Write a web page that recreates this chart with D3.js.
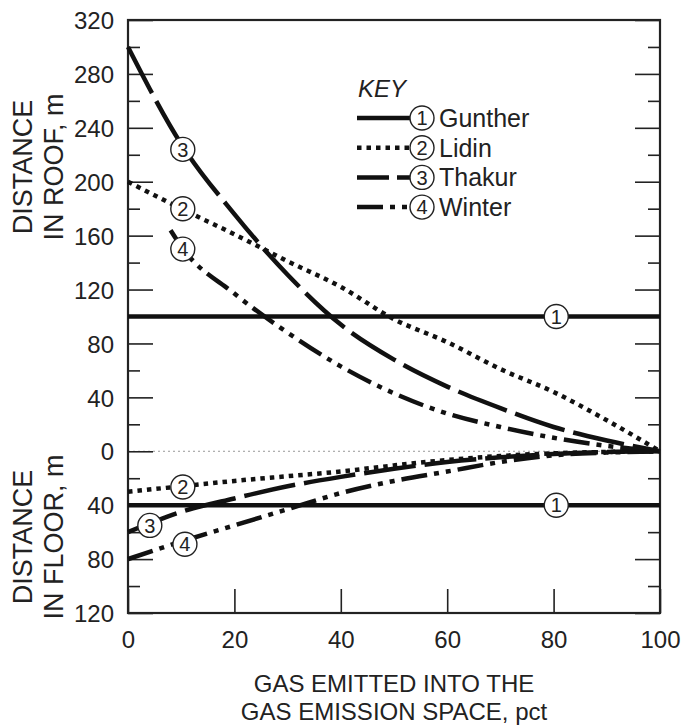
<!DOCTYPE html>
<html>
<head>
<meta charset="utf-8">
<script src="https://cdn.jsdelivr.net/npm/d3@7"></script>
<style>
  body { margin: 0; background: #fff; }
  svg { font-family: "Liberation Sans", Arial, sans-serif; }
</style>
</head>
<body>
<script>
// values (pct of gas emitted -> distance, m)
const pct = [0, 10, 20, 30, 40, 50, 60, 70, 80, 90, 100];
const winterPct = [8, 10, 20, 30, 40, 50, 60, 70, 80, 90, 100];
const edgePct = [0, 100];

const guntherRoof = [100, 100];
const lidinRoof = [200, 180, 161, 141, 122, 98, 81, 61, 44, 23, 0];
const thakurRoof = [300, 228, 176, 131, 94, 68, 48, 32, 18, 8, 0];
const winterRoof = [164, 152, 117, 88, 63, 43, 28, 18, 10, 4, 0];

// floor distances (plotted below zero)
const guntherFloor = [40, 40];
const lidinFloor = [30, 26, 22, 18.5, 15, 10.5, 6.5, 3.5, 1.5, 0.5, 0];
const thakurFloor = [60, 45, 35, 26, 19, 13, 8, 4.5, 2, 0.5, 0];
const winterFloor = [80, 67, 55, 43, 31, 22, 15, 8, 3, 1, 0];

const xTicks = [0, 20, 40, 60, 80, 100];
const yMajor = [-120, -80, -40, 0, 40, 80, 120, 160, 200, 240, 280, 320];
const yMinor = [-100, -60, -20, 20, 60, 100, 140, 180, 220, 260, 300];

const keyNames = ['Gunther', 'Lidin', 'Thakur', 'Winter'];
// circled numbers on the curves: [id, pct, distance]
const markers = [
  [1, 80.5, 100], [2, 10.3, 180], [3, 10.3, 224], [4, 10.3, 150],
  [1, 80.5, -40], [2, 10.3, -26.5], [3, 4.1, -55], [4, 10.7, -69]
];

const W = 686, H = 726;
const plot = { left: 128, right: 660, top: 20, bottom: 613 };

const x = d3.scaleLinear().domain([0, 100]).range([plot.left, plot.right]);
const y = d3.scaleLinear().domain([-120, 320]).range([plot.bottom, plot.top]);

const svg = d3.select('body').append('svg')
  .attr('width', W).attr('height', H);

const dashes = {
  1: null,
  2: '4.5,5',
  3: '52,9',
  4: '26,7,5,7,5,7'
};

// zero line
svg.append('line')
  .attr('x1', plot.left).attr('x2', plot.right)
  .attr('y1', y(0)).attr('y2', y(0))
  .attr('stroke', '#999').attr('stroke-width', 1)
  .attr('stroke-dasharray', '2,3');

// axes
const fontSize = 24;
const styleAxis = g => {
  g.select('.domain').remove();
  g.selectAll('line').attr('stroke', '#222').attr('stroke-width', 1.6);
  g.selectAll('text').attr('font-size', fontSize).attr('fill', '#222')
    .attr('font-family', '"Liberation Sans", Arial, sans-serif');
};

svg.append('g').attr('transform', `translate(${plot.left},0)`)
  .call(d3.axisLeft(y).tickValues(yMajor).tickSize(-25).tickPadding(14)
    .tickFormat(d => Math.abs(d)))
  .call(styleAxis)
  .selectAll('text').attr('dy', '0.36em');

svg.append('g').attr('transform', `translate(${plot.left},0)`)
  .call(d3.axisLeft(y).tickValues(yMinor).tickSize(-12).tickFormat(''))
  .call(styleAxis);

svg.append('g').attr('transform', `translate(${plot.right},0)`)
  .call(d3.axisRight(y).tickValues(yMajor).tickSize(-25).tickFormat(''))
  .call(styleAxis);

svg.append('g').attr('transform', `translate(${plot.right},0)`)
  .call(d3.axisRight(y).tickValues(yMinor).tickSize(-12).tickFormat(''))
  .call(styleAxis);

svg.append('g').attr('transform', `translate(0,${plot.bottom})`)
  .call(d3.axisBottom(x).tickValues(xTicks).tickSize(-24).tickPadding(18))
  .call(styleAxis);

// frame
svg.append('rect')
  .attr('x', plot.left).attr('y', plot.top)
  .attr('width', plot.right - plot.left).attr('height', plot.bottom - plot.top)
  .attr('fill', 'none').attr('stroke', '#222').attr('stroke-width', 2.2);

// curves
const line = d3.line()
  .x(d => x(d[0])).y(d => y(d[1]))
  .curve(d3.curveMonotoneX);

const series = [
  { id: 1, xs: edgePct, vs: guntherRoof, sign: 1 },
  { id: 2, xs: pct, vs: lidinRoof, sign: 1 },
  { id: 3, xs: pct, vs: thakurRoof, sign: 1 },
  { id: 4, xs: winterPct, vs: winterRoof, sign: 1 },
  { id: 1, xs: edgePct, vs: guntherFloor, sign: -1 },
  { id: 2, xs: pct, vs: lidinFloor, sign: -1 },
  { id: 3, xs: pct, vs: thakurFloor, sign: -1 },
  { id: 4, xs: pct, vs: winterFloor, sign: -1 }
];

svg.append('g').selectAll('path')
  .data(series)
  .join('path')
  .attr('d', s => line(s.xs.map((p, i) => [p, s.sign * s.vs[i]])))
  .attr('fill', 'none')
  .attr('stroke', '#111')
  .attr('stroke-width', 4.5)
  .attr('stroke-dasharray', s => dashes[s.id]);

// circled numbers
const badge = (g, cx, cy, id) => {
  g.append('circle').attr('cx', cx).attr('cy', cy).attr('r', 12)
    .attr('fill', '#fff').attr('stroke', '#222').attr('stroke-width', 1.4);
  g.append('text').attr('x', cx).attr('y', cy).attr('dy', '0.36em')
    .attr('text-anchor', 'middle').attr('font-size', 20).attr('fill', '#222')
    .text(id);
};

const mg = svg.append('g');
markers.forEach(m => badge(mg, x(m[1]), y(m[2]), m[0]));

// key
const key = svg.append('g');
key.append('text').attr('x', 358).attr('y', 97)
  .attr('font-size', 24).attr('font-style', 'italic').attr('fill', '#222')
  .text('KEY');

keyNames.forEach((name, i) => {
  const ry = 118 + i * 29.7;
  key.append('line')
    .attr('x1', 357).attr('x2', 412).attr('y1', ry).attr('y2', ry)
    .attr('stroke', '#111').attr('stroke-width', 4.5)
    .attr('stroke-dasharray', i === 2 ? '32,8' : dashes[i + 1]);
  badge(key, 422, ry, i + 1);
  key.append('text').attr('x', 439).attr('y', ry).attr('dy', '0.36em')
    .attr('font-size', 25).attr('fill', '#222').text(name);
});

// axis titles
const xt = svg.append('text')
  .attr('text-anchor', 'middle').attr('font-size', 24).attr('fill', '#222');
xt.append('tspan').attr('x', (plot.left + plot.right) / 2).attr('y', 692).text('GAS EMITTED INTO THE');
xt.append('tspan').attr('x', (plot.left + plot.right) / 2).attr('y', 720).text('GAS EMISSION SPACE, pct');

const yTitle = (cy, lines) => {
  const t = svg.append('text')
    .attr('transform', `translate(0,${cy}) rotate(-90)`)
    .attr('text-anchor', 'middle').attr('font-size', 27).attr('fill', '#222');
  lines.forEach((l, i) => {
    t.append('tspan').attr('x', 0).attr('y', 32 + i * 31).text(l);
  });
};
yTitle(167, ['DISTANCE', 'IN ROOF, m']);
yTitle(537, ['DISTANCE', 'IN FLOOR, m']);
</script>
</body>
</html>
